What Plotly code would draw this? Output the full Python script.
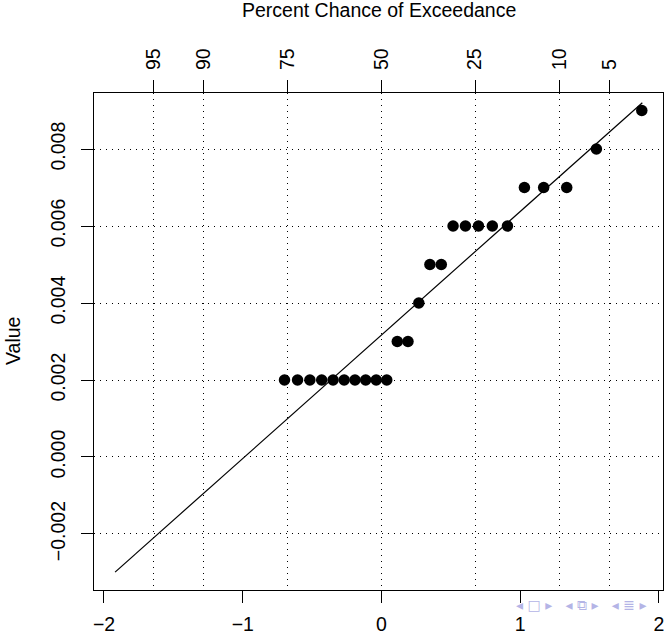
import plotly.graph_objects as go
from statistics import NormalDist

# ---- data ----
z_points = [-0.699, -0.605, -0.516, -0.431, -0.349, -0.269, -0.191, -0.114, -0.038, 0.038,
            0.114, 0.191, 0.269, 0.349, 0.431, 0.516, 0.605, 0.699, 0.799, 0.908,
            1.030, 1.169, 1.335, 1.549, 1.876]
values = [0.002, 0.002, 0.002, 0.002, 0.002, 0.002, 0.002, 0.002, 0.002, 0.002,
          0.003, 0.003, 0.004, 0.005, 0.005, 0.006, 0.006, 0.006, 0.006, 0.006,
          0.007, 0.007, 0.007, 0.008, 0.009]
line_z = [-1.92, 1.88]
line_values = [-0.00299, 0.00920]

bottom_ticks = [-2, -1, 0, 1, 2]
bottom_labels = ["\u22122", "\u22121", "0", "1", "2"]
exceed_pct = [95, 90, 75, 50, 25, 10, 5]
y_ticks = [-0.002, 0.0, 0.002, 0.004, 0.006, 0.008]
y_labels = ["\u22120.002", "0.000", "0.002", "0.004", "0.006", "0.008"]

top_pos = [NormalDist().inv_cdf(1 - p / 100) for p in exceed_pct]
top_labels = [str(p) for p in exceed_pct]

FONT = "Liberation Sans, Arial, Helvetica, sans-serif"
FS = 19.5
x_range = [-2.072, 2.029]
y_range = [-0.003455, 0.009455]
dot = "1px,5px"

fig = go.Figure()
fig.add_trace(go.Scatter(x=line_z, y=line_values, mode="lines",
                         line=dict(color="black", width=1.2), hoverinfo="skip",
                         showlegend=False))
fig.add_trace(go.Scatter(x=z_points, y=values, mode="markers",
                         marker=dict(color="black", size=11.5, line=dict(width=0)),
                         showlegend=False))
# invisible trace on the top axis so it gets drawn
fig.add_trace(go.Scatter(x=line_z, y=line_values, xaxis="x2", mode="markers",
                         marker=dict(opacity=0), hoverinfo="skip", showlegend=False))

fig.update_layout(
    width=665, height=637,
    margin=dict(l=94, r=2, t=93, b=47),
    paper_bgcolor="white", plot_bgcolor="white",
    font=dict(family=FONT, size=FS, color="black"),
    xaxis=dict(range=x_range, tickvals=bottom_ticks, ticktext=bottom_labels,
               ticks="outside", ticklen=12, tickwidth=1, tickcolor="black",
               showgrid=False, zeroline=False, showline=True, linecolor="black",
               linewidth=1, mirror=True, ticklabelstandoff=5,
               tickfont=dict(size=FS)),
    xaxis2=dict(range=x_range, overlaying="x", side="top", anchor="y",
                tickvals=top_pos, ticktext=top_labels, tickangle=-90,
                ticks="outside", ticklen=12, tickwidth=1, tickcolor="black",
                showgrid=True, gridcolor="black", gridwidth=1, griddash=dot,
                zeroline=False, showline=False, ticklabelstandoff=6,
                tickfont=dict(size=FS)),
    yaxis=dict(range=y_range, tickvals=y_ticks, ticktext=y_labels, tickangle=-90,
               ticks="outside", ticklen=12, tickwidth=1, tickcolor="black",
               showgrid=True, gridcolor="black", gridwidth=1, griddash=dot,
               zeroline=False, showline=True, linecolor="black", linewidth=1,
               mirror=True, ticklabelstandoff=8, tickfont=dict(size=FS)),
    annotations=[
        dict(text="Percent Chance of Exceedance", xref="paper", yref="paper",
             x=0.5, y=1 + (93 - 10.5) / 497, xanchor="center", yanchor="middle",
             showarrow=False, font=dict(size=FS)),
        dict(text="Value", xref="paper", yref="paper", textangle=-90,
             x=(12.5 - 94) / 569, y=0.5, xanchor="center", yanchor="middle",
             showarrow=False, font=dict(size=FS)),
        dict(text="\u25c2 \u25a1 \u25b8   \u25c2 \u29c9 \u25b8   \u25c2 \u2263 \u25b8",
             xref="paper", yref="paper", x=(581 - 94) / 569, y=-(605 - 590) / 497,
             xanchor="center", yanchor="middle", showarrow=False,
             font=dict(size=14, color="#b4b4e6", family="DejaVu Sans")),
    ],
)

fig.write_html("out.html",
               config={"displayModeBar": False, "staticPlot": True},
               post_script="document.body.style.margin='0';document.body.style.padding='0';document.body.style.overflow='hidden';")
